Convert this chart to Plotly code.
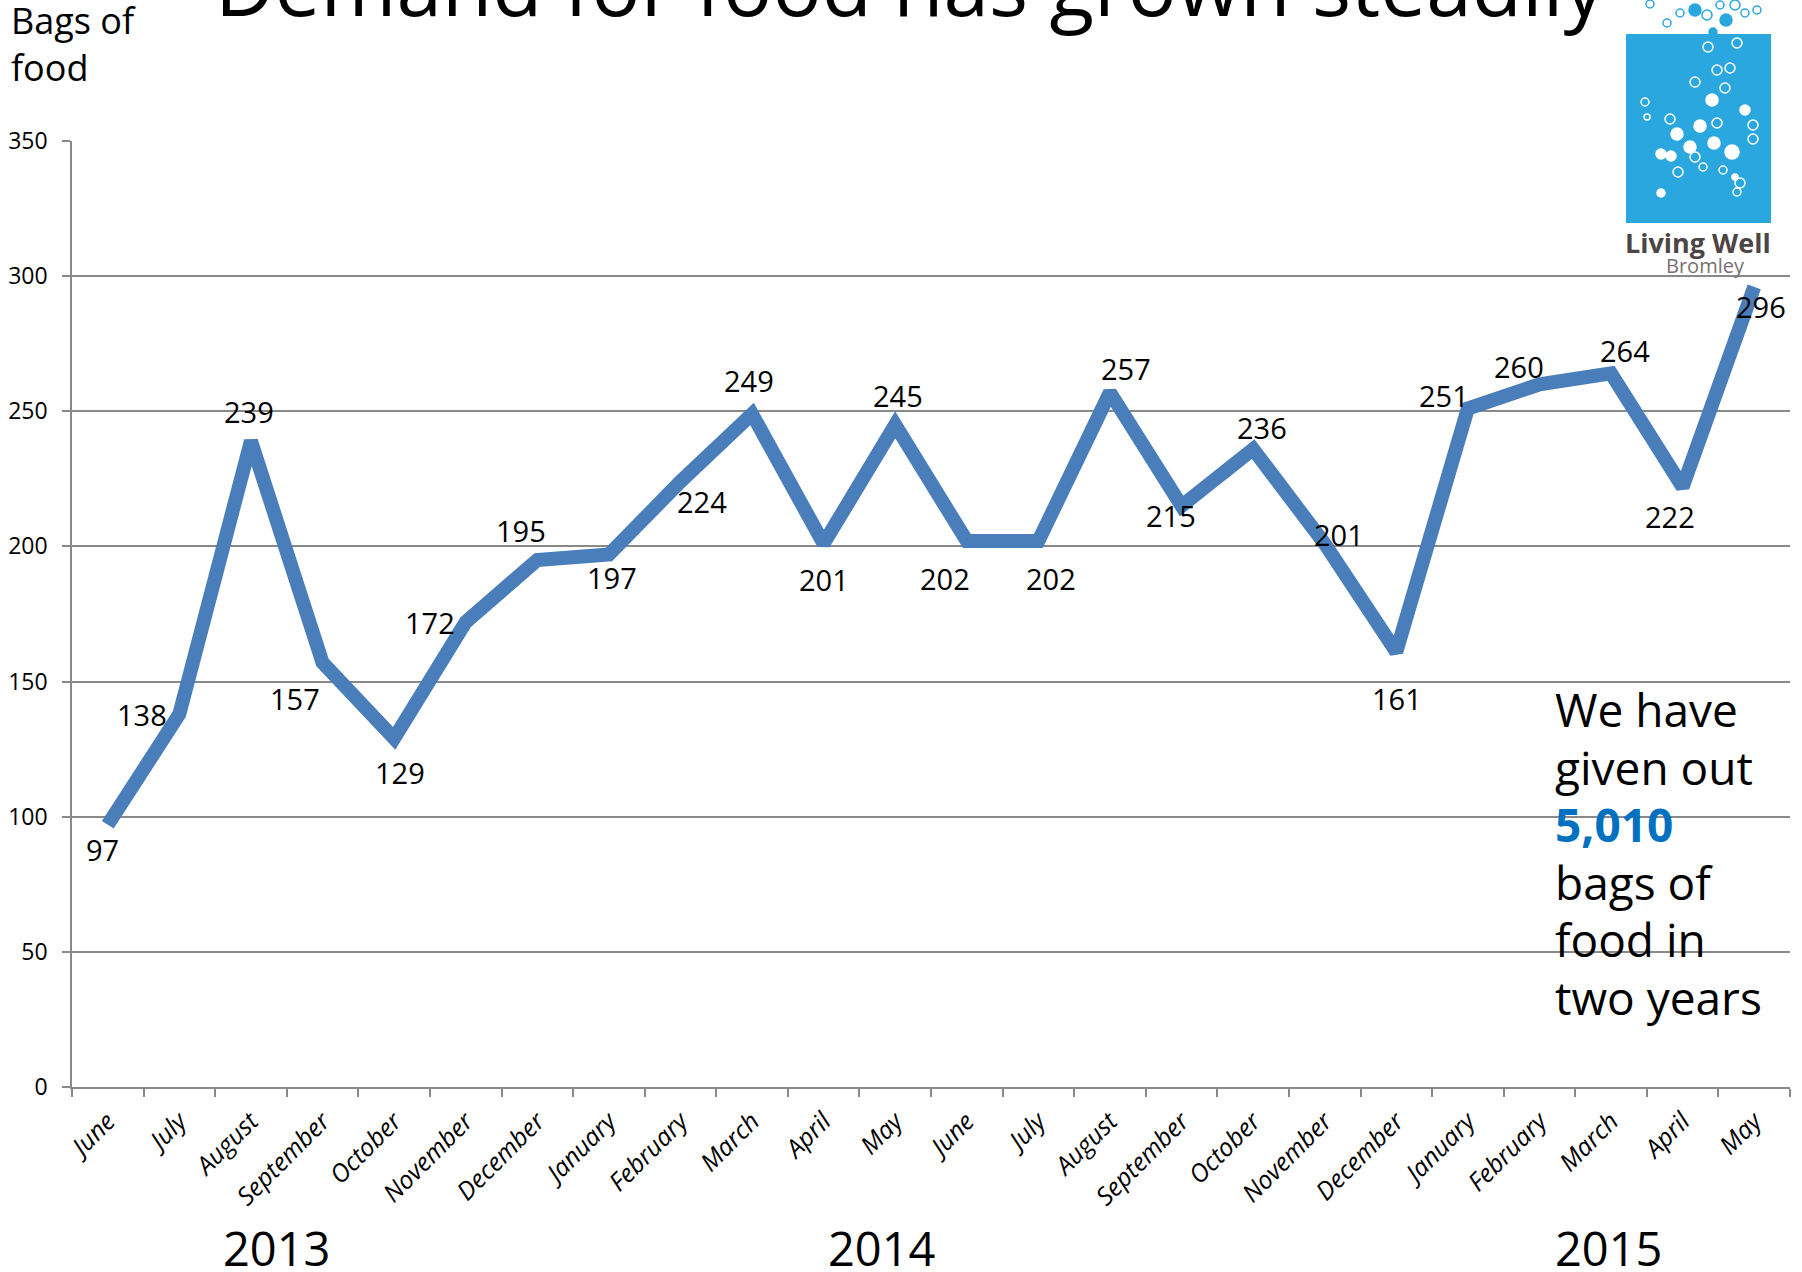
import plotly.graph_objects as go

# ===== data =====
months = ["June", "July", "August", "September", "October", "November", "December",
          "January", "February", "March", "April", "May", "June", "July", "August",
          "September", "October", "November", "December", "January", "February",
          "March", "April", "May"]
bags = [97, 138, 239, 157, 129, 172, 195, 197, 224, 249, 201, 245, 202, 202,
        257, 215, 236, 201, 161, 251, 260, 264, 222, 296]
years = ["2013", "2014", "2015"]
total_bags = "5,010"
callout = ["We have", "given out",
           f"<b><span style='color:#0070c0'>{total_bags}</span></b>",
           "bags of", "food in", "two years"]

# label offsets in px (dx, dy) - excel kept them hand placed
label_shift = [(-5, -25), (-37, 0), (-2, 30), (-28, -36), (6, -34), (-36, 0),
               (-16, 29), (3, -23), (22, -20), (-3, 33), (0, -36), (3, 29),
               (-22, -37), (13, -37), (16, 24), (-11, -10), (9, 22), (14, 9),
               (1, -47), (-24, 13), (-20, 18), (14, 23), (-13, -30), (7, -20)]
year_x = [2.36, 10.82, 20.97]

W, H = 1802, 1272
L, R, T, B = 72, 12, 141, 185
FONT = "Open Sans"
GRID = "#898989"
LINE = "#4a7ebb"


def px(x):
    return (x - L) / (W - L - R)


def py(y):
    return (H - B - y) / (H - T - B)


xs = list(range(len(bags)))

fig = go.Figure()
fig.add_trace(go.Scatter(
    x=xs, y=bags, mode="lines",
    line=dict(color=LINE, width=14),
    hoverinfo="skip", showlegend=False
))

# data labels
for i, v in enumerate(bags):
    dx, dy = label_shift[i]
    fig.add_annotation(x=i, y=v, text=str(v), showarrow=False,
                       xshift=dx, yshift=dy,
                       font=dict(family=FONT, size=29, color="black"))

# year labels
for yr, xp in zip(years, year_x):
    fig.add_annotation(x=xp, y=py(1248), xref="x", yref="paper", text=yr,
                       showarrow=False, xanchor="center", yanchor="middle",
                       font=dict(family=FONT, size=47, color="black"))

# title (cut off at the top, as in the slide)
fig.add_annotation(x=px(910), y=py(42), xref="paper", yref="paper",
                   text="Demand for food has grown steadily", showarrow=False,
                   xanchor="center", yanchor="bottom",
                   font=dict(family=FONT, size=82, color="black"))

fig.add_annotation(x=px(9), y=py(-6), xref="paper", yref="paper",
                   text="Bags of<br>food", showarrow=False, align="left",
                   xanchor="left", yanchor="top",
                   font=dict(family=FONT, size=36, color="black"))

# callout text with white box behind it
fig.add_shape(type="rect", xref="paper", yref="paper", layer="between",
              x0=px(1533), x1=px(1783), y0=py(1040), y1=py(662),
              fillcolor="white", line_width=0)
for k, line in enumerate(callout):
    fig.add_annotation(x=px(1553), y=py(709 + 57.5 * k), xref="paper", yref="paper",
                       text=line, showarrow=False, xanchor="left", yanchor="middle",
                       font=dict(family=FONT, size=46, color="black"))

# ===== logo (Living Well Bromley) =====
BLUE = "#2aa7df"
fig.add_shape(type="rect", xref="paper", yref="paper", layer="below",
              x0=px(1626), x1=px(1771), y0=py(223), y1=py(34),
              fillcolor=BLUE, line_width=0)


def bubble(cx, cy, r, fill, edge):
    fig.add_shape(type="circle", xref="paper", yref="paper", layer="below",
                  x0=px(cx - r), x1=px(cx + r), y0=py(cy + r), y1=py(cy - r),
                  fillcolor=fill, line=dict(color=edge, width=1.5))


for cx, cy, r in [(1712, 100, 6), (1745, 110, 5), (1700, 126, 6), (1677, 134, 6),
                  (1690, 147, 6), (1714, 143, 6), (1732, 152, 7), (1661, 154, 5),
                  (1671, 156, 5), (1661, 193, 4), (1735, 177, 3)]:
    bubble(cx, cy, r, "white", "white")
for cx, cy, r in [(1737, 43, 5), (1708, 47, 5), (1717, 70, 5), (1730, 68, 5),
                  (1695, 82, 5), (1725, 88, 5), (1645, 102, 4), (1670, 119, 5),
                  (1717, 123, 5), (1753, 125, 5), (1753, 139, 5), (1678, 172, 5),
                  (1695, 157, 5), (1723, 170, 4), (1740, 183, 5), (1647, 117, 3),
                  (1737, 192, 4), (1703, 167, 4)]:
    bubble(cx, cy, r, "rgba(0,0,0,0)", "white")
for cx, cy, r in [(1695, 10, 6), (1726, 20, 6), (1713, 32, 4)]:
    bubble(cx, cy, r, BLUE, BLUE)
for cx, cy, r in [(1650, 4, 4), (1667, 23, 4), (1680, 13, 4), (1707, 15, 5),
                  (1735, 5, 5), (1745, 13, 4), (1720, 5, 4), (1757, 10, 4)]:
    bubble(cx, cy, r, "rgba(0,0,0,0)", BLUE)

fig.add_annotation(x=px(1698), y=py(242), xref="paper", yref="paper",
                   text="<b>Living Well</b>", showarrow=False,
                   xanchor="center", yanchor="middle",
                   font=dict(family=FONT, size=27, color="#4d4545"))
fig.add_annotation(x=px(1705), y=py(265), xref="paper", yref="paper",
                   text="Bromley", showarrow=False,
                   xanchor="center", yanchor="middle",
                   font=dict(family=FONT, size=20, color="#7a7070"))

fig.update_layout(
    width=W, height=H,
    margin=dict(l=L, r=R, t=T, b=B),
    plot_bgcolor="white", paper_bgcolor="white",
    font=dict(family=FONT, color="black"),
    showlegend=False,
)

fig.update_xaxes(
    range=[-0.5, len(bags) - 0.5], automargin=False,
    tickvals=xs, ticktext=months, tickangle=-45,
    ticks="", ticklabelstandoff=8,
    tickfont=dict(family=FONT, size=25, style="italic", color="black"),
    showgrid=False, zeroline=False,
    showline=True, linecolor=GRID, linewidth=1.5,
    minor=dict(tickvals=[i - 0.5 for i in range(len(bags) + 1)],
               ticks="outside", ticklen=8, tickcolor=GRID, tickwidth=1.5,
               showgrid=False),
)
fig.update_yaxes(
    range=[0, 350], dtick=50, automargin=False,
    ticks="outside", ticklen=8, tickcolor=GRID, tickwidth=1.5,
    ticklabelstandoff=10,
    tickfont=dict(family=FONT, size=23, color="black"),
    showgrid=True, gridcolor=GRID, gridwidth=1.5,
    zeroline=False, showline=True, linecolor=GRID, linewidth=1.5,
)

# page body has an 8px default margin; drop it so the figure fills the window
fig.write_html("out.html", config={"displayModeBar": False},
               post_script="document.body.style.margin='0';")
